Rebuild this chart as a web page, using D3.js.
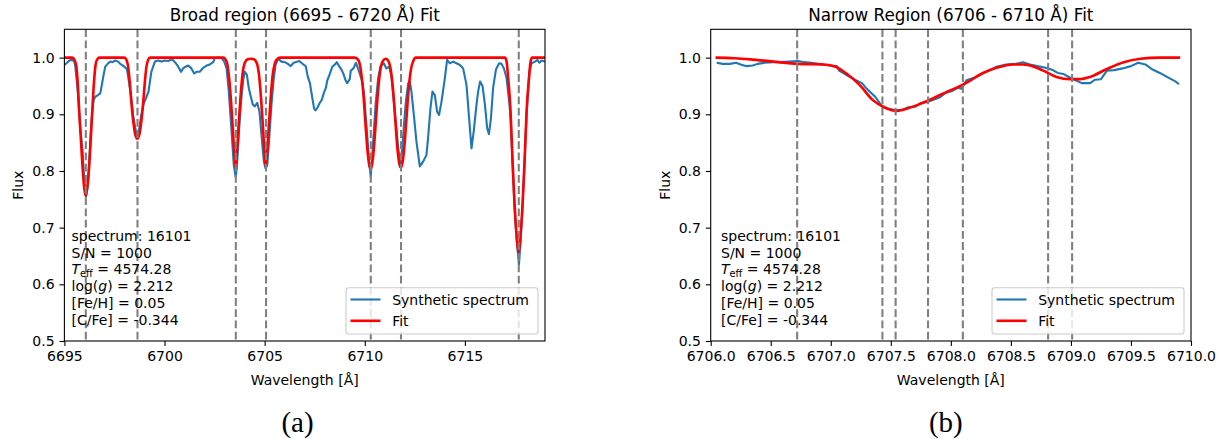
<!DOCTYPE html>
<html>
<head>
<meta charset="utf-8">
<script src="https://cdn.jsdelivr.net/npm/d3@7"></script>
<style>
    body { margin: 0; background: #fff; }
    svg { display: block; font-family: "DejaVu Sans", sans-serif; }
</style>
</head>
<body>
<svg id="chart" width="1223" height="439"></svg>
<script>
// [wavelength, flux]
const broadSpectrum = [
    [6695.00,0.987],[6695.13,0.991],[6695.24,0.995],[6695.38,0.996],[6695.48,0.994],[6695.54,0.986],
    [6695.61,0.962],[6695.68,0.935],[6695.79,0.876],[6695.91,0.835],[6695.98,0.790],[6696.04,0.765],
    [6696.08,0.755],[6696.13,0.765],[6696.18,0.780],[6696.24,0.817],[6696.31,0.864],[6696.38,0.899],
    [6696.46,0.925],[6696.54,0.931],[6696.68,0.934],[6696.79,0.937],[6696.87,0.952],[6696.96,0.970],
    [6697.04,0.984],[6697.18,0.990],[6697.29,0.993],[6697.41,0.992],[6697.54,0.995],[6697.68,0.993],
    [6697.79,0.989],[6697.96,0.985],[6698.12,0.980],[6698.20,0.963],[6698.32,0.934],[6698.43,0.899],
    [6698.54,0.876],[6698.64,0.858],[6698.74,0.876],[6698.84,0.899],[6698.96,0.919],[6699.07,0.928],
    [6699.20,0.940],[6699.34,0.975],[6699.52,0.993],[6699.68,0.995],[6699.85,0.993],[6700.02,0.995],
    [6700.18,0.994],[6700.38,0.997],[6700.52,0.992],[6700.65,0.986],[6700.82,0.975],[6700.93,0.981],
    [6701.05,0.984],[6701.18,0.986],[6701.32,0.982],[6701.48,0.972],[6701.60,0.975],[6701.76,0.975],
    [6701.93,0.982],[6702.10,0.986],[6702.26,0.988],[6702.43,0.992],[6702.51,0.999],[6702.68,1.000],
    [6702.85,0.999],[6702.98,0.993],[6703.10,0.981],[6703.21,0.940],[6703.35,0.869],[6703.46,0.810],
    [6703.55,0.790],[6703.61,0.805],[6703.71,0.864],[6703.81,0.917],[6703.93,0.961],[6704.01,0.975],
    [6704.11,0.970],[6704.21,0.946],[6704.31,0.931],[6704.41,0.917],[6704.51,0.914],[6704.63,0.920],
    [6704.74,0.905],[6704.84,0.864],[6704.96,0.817],[6705.04,0.805],[6705.13,0.810],[6705.23,0.858],
    [6705.34,0.917],[6705.44,0.958],[6705.54,0.987],[6705.68,0.998],[6705.84,0.993],[6706.01,0.992],
    [6706.16,0.989],[6706.30,0.985],[6706.45,0.991],[6706.65,0.993],[6706.73,0.994],[6706.93,0.988],
    [6707.05,0.985],[6707.15,0.967],[6707.26,0.955],[6707.37,0.931],[6707.47,0.910],[6707.54,0.907],
    [6707.64,0.912],[6707.75,0.920],[6707.86,0.926],[6707.95,0.937],[6708.06,0.947],[6708.13,0.960],
    [6708.26,0.972],[6708.38,0.984],[6708.54,0.989],[6708.60,0.992],[6708.72,0.985],[6708.85,0.978],
    [6708.94,0.971],[6709.03,0.961],[6709.12,0.955],[6709.25,0.962],[6709.30,0.977],[6709.43,0.981],
    [6709.56,0.991],[6709.68,0.979],[6709.80,0.966],[6709.87,0.958],[6709.95,0.940],[6710.12,0.864],
    [6710.22,0.815],[6710.30,0.790],[6710.42,0.852],[6710.55,0.922],[6710.67,0.964],[6710.78,0.984],
    [6710.95,0.990],[6711.08,0.981],[6711.22,0.984],[6711.33,0.967],[6711.50,0.905],[6711.67,0.840],
    [6711.80,0.806],[6711.92,0.864],[6712.05,0.922],[6712.17,0.955],[6712.25,0.958],[6712.33,0.940],
    [6712.45,0.899],[6712.58,0.852],[6712.75,0.808],[6712.92,0.817],[6713.08,0.828],[6713.16,0.858],
    [6713.28,0.911],[6713.38,0.940],[6713.50,0.934],[6713.61,0.905],[6713.71,0.899],[6713.83,0.922],
    [6714.00,0.964],[6714.11,0.996],[6714.25,0.990],[6714.41,0.993],[6714.58,0.990],[6714.75,0.987],
    [6714.91,0.981],[6715.08,0.952],[6715.21,0.893],[6715.33,0.840],[6715.44,0.870],[6715.58,0.917],
    [6715.66,0.940],[6715.76,0.958],[6715.88,0.950],[6716.00,0.917],[6716.11,0.876],[6716.20,0.865],
    [6716.30,0.893],[6716.41,0.947],[6716.55,0.979],[6716.71,0.990],[6716.83,0.989],[6716.95,0.981],
    [6717.08,0.964],[6717.21,0.923],[6717.28,0.895],[6717.38,0.812],[6717.48,0.735],[6717.58,0.680],
    [6717.70,0.635],[6717.79,0.680],[6717.88,0.740],[6717.98,0.815],[6718.08,0.900],[6718.22,0.975],
    [6718.33,0.990],[6718.50,0.993],[6718.62,0.996],[6718.72,0.991],[6718.83,0.995],[6719.00,0.993]
]

const broadFit = [
    [6695.00,1.000],[6695.40,1.000],[6695.50,0.996],[6695.58,0.988],[6695.66,0.958],[6695.74,0.905],
    [6695.83,0.852],[6695.91,0.805],[6695.99,0.770],[6696.06,0.757],[6696.14,0.770],[6696.23,0.805],
    [6696.31,0.852],[6696.39,0.905],[6696.48,0.958],[6696.56,0.988],[6696.64,0.997],[6696.75,1.000],
    [6698.00,1.000],[6698.10,0.996],[6698.18,0.985],[6698.26,0.958],[6698.34,0.923],[6698.44,0.887],
    [6698.54,0.864],[6698.64,0.857],[6698.74,0.864],[6698.84,0.887],[6698.94,0.923],[6699.02,0.958],
    [6699.10,0.985],[6699.18,0.996],[6699.28,1.000],[6702.93,1.000],[6703.10,0.993],[6703.21,0.969],
    [6703.31,0.928],[6703.40,0.881],[6703.48,0.834],[6703.55,0.806],[6703.62,0.834],[6703.70,0.881],
    [6703.79,0.928],[6703.89,0.969],[6704.00,0.990],[6704.15,0.997],[6704.31,0.998],[6704.46,0.997],
    [6704.61,0.990],[6704.72,0.969],[6704.82,0.928],[6704.91,0.881],[6704.99,0.834],[6705.06,0.808],
    [6705.13,0.834],[6705.21,0.881],[6705.30,0.928],[6705.40,0.969],[6705.51,0.990],[6705.64,0.998],
    [6705.80,1.000],[6709.50,1.000],[6709.67,0.996],[6709.79,0.981],[6709.92,0.940],[6710.04,0.881],
    [6710.14,0.834],[6710.22,0.811],[6710.29,0.804],[6710.36,0.811],[6710.44,0.834],[6710.54,0.881],
    [6710.66,0.940],[6710.79,0.981],[6710.92,0.995],[6711.05,0.998],[6711.18,0.994],[6711.30,0.978],
    [6711.42,0.940],[6711.53,0.887],[6711.63,0.840],[6711.72,0.814],[6711.80,0.806],[6711.88,0.814],
    [6711.97,0.840],[6712.07,0.887],[6712.18,0.940],[6712.30,0.978],[6712.42,0.994],[6712.55,1.000],
    [6717.00,1.000],[6717.08,0.993],[6717.16,0.964],[6717.28,0.905],[6717.38,0.817],[6717.48,0.741],
    [6717.58,0.688],[6717.68,0.657],[6717.78,0.688],[6717.88,0.741],[6717.98,0.817],[6718.08,0.905],
    [6718.20,0.964],[6718.28,0.993],[6718.36,1.000],[6719.00,1.000]
]

const narrowSpectrum = [
    [6706.05,0.991],[6706.10,0.989],[6706.16,0.989],[6706.21,0.991],[6706.25,0.988],[6706.30,0.985],
    [6706.35,0.986],[6706.39,0.989],[6706.45,0.991],[6706.52,0.992],[6706.58,0.992],[6706.65,0.993],
    [6706.73,0.994],[6706.78,0.992],[6706.84,0.991],[6706.93,0.988],[6707.00,0.986],[6707.05,0.985],
    [6707.07,0.977],[6707.15,0.967],[6707.21,0.960],[6707.26,0.955],[6707.30,0.945],[6707.37,0.931],
    [6707.43,0.913],[6707.47,0.910],[6707.54,0.907],[6707.60,0.908],[6707.64,0.912],[6707.71,0.914],
    [6707.75,0.920],[6707.81,0.922],[6707.86,0.926],[6707.91,0.930],[6707.95,0.937],[6708.01,0.941],
    [6708.06,0.947],[6708.09,0.945],[6708.13,0.960],[6708.20,0.965],[6708.26,0.972],[6708.32,0.977],
    [6708.38,0.984],[6708.46,0.988],[6708.54,0.989],[6708.60,0.992],[6708.66,0.988],[6708.72,0.985],
    [6708.79,0.982],[6708.85,0.978],[6708.89,0.973],[6708.94,0.971],[6708.99,0.965],[6709.03,0.961],
    [6709.09,0.955],[6709.16,0.955],[6709.20,0.961],[6709.25,0.962],[6709.30,0.977],[6709.36,0.978],
    [6709.43,0.981],[6709.50,0.985],[6709.56,0.991],[6709.62,0.988],[6709.68,0.979],[6709.74,0.973],
    [6709.80,0.966],[6709.87,0.958],[6709.90,0.953]
]

const narrowFit = [
    [6706.04,1.000],[6706.20,0.999],[6706.33,0.997],[6706.52,0.993],[6706.73,0.989],[6706.94,0.988],
    [6707.04,0.984],[6707.13,0.972],[6707.24,0.952],[6707.35,0.925],[6707.45,0.912],[6707.55,0.906],
    [6707.65,0.911],[6707.74,0.918],[6707.85,0.928],[6707.97,0.940],[6708.08,0.950],[6708.15,0.958],
    [6708.26,0.972],[6708.38,0.982],[6708.52,0.988],[6708.60,0.988],[6708.66,0.986],[6708.77,0.977],
    [6708.88,0.966],[6708.99,0.962],[6709.08,0.962],[6709.16,0.966],[6709.30,0.980],[6709.44,0.992],
    [6709.58,0.998],[6709.74,1.000],[6709.91,1.000]
]

const broadLines = [6696.07, 6698.65, 6703.56, 6705.07, 6710.30, 6711.81, 6717.69]
const narrowLines = [6706.72, 6707.43, 6707.54, 6707.81, 6708.10, 6708.81, 6709.01]

const broadTicks = [6695, 6700, 6705, 6710, 6715]
const narrowTicks = [6706.0, 6706.5, 6707.0, 6707.5, 6708.0, 6708.5, 6709.0, 6709.5, 6710.0]
const fluxTicks = [0.5, 0.6, 0.7, 0.8, 0.9, 1.0]

const seriesNames = ["Synthetic spectrum", "Fit"]
const seriesColors = ["#1f77b4", "#ff0000"]

const fontSize = 14
const tickLen = 4.9
const plotTop = 29.3
const plotBottom = 341

const panels = [
    {
        id: "broad", title: "Broad region (6695 - 6720 \u00c5) Fit", label: "(a)",
        left: 64.4, right: 545, domain: [6695, 6719],
        spectrum: broadSpectrum, fit: broadFit, lines: broadLines,
        ticks: broadTicks, format: d3.format("d"), textX: 71.5, labelX: 297.5
    },
    {
        id: "narrow", title: "Narrow Region (6706 - 6710 \u00c5) Fit", label: "(b)",
        left: 710.7, right: 1191, domain: [6706, 6710],
        spectrum: narrowSpectrum, fit: narrowFit, lines: narrowLines,
        ticks: narrowTicks, format: d3.format(".1f"), textX: 721, labelX: 945.8
    }
]

function infoText(sel, x, y0) {
    let step = 16.7
    let rows = [
        s => s.text("spectrum: 16101"),
        s => s.text("S/N = 1000"),
        s => {
            s.append("tspan").attr("font-style", "italic").text("T")
            s.append("tspan").attr("font-size", 9.8).attr("dy", 2.6).text("eff")
            s.append("tspan").attr("dy", -2.6).text(" = 4574.28")
        },
        s => {
            s.append("tspan").text("log(")
            s.append("tspan").attr("font-style", "italic").text("g")
            s.append("tspan").text(") = 2.212")
        },
        s => s.text("[Fe/H] = 0.05"),
        s => s.text("[C/Fe] = -0.344"),
    ]
    rows.forEach((fn, i) => {
        let t = sel.append("text")
            .attr("x", x)
            .attr("y", y0 + i * step)
            .attr("font-size", fontSize)
        fn(t)
    })
}

function drawPanel(svg, p) {
    let x = d3.scaleLinear().domain(p.domain).range([p.left, p.right])
    let y = d3.scaleLinear().domain([0.5, 1.05]).range([plotBottom, plotTop])
    let g = svg.append("g").attr("class", p.id)

    g.append("clipPath")
        .attr("id", "clip-" + p.id)
        .append("rect")
            .attr("x", p.left)
            .attr("y", plotTop)
            .attr("width", p.right - p.left)
            .attr("height", plotBottom - plotTop)

    let plot = g.append("g").attr("clip-path", `url(#clip-${p.id})`)

    let line = d3.line().x(d => x(d[0])).y(d => y(d[1]))
    plot.append("path")
        .datum(p.spectrum)
        .attr("fill", "none")
        .attr("stroke", seriesColors[0])
        .attr("stroke-width", 2.1)
        .attr("stroke-linejoin", "round")
        .attr("d", line)
    plot.append("path")
        .datum(p.fit)
        .attr("fill", "none")
        .attr("stroke", seriesColors[1])
        .attr("stroke-width", 2.6)
        .attr("stroke-linejoin", "round")
        .attr("d", line.curve(d3.curveMonotoneX))

    plot.selectAll("line.marker")
        .data(p.lines)
        .join("line")
            .attr("class", "marker")
            .attr("x1", d => x(d))
            .attr("x2", d => x(d))
            .attr("y1", plotTop)
            .attr("y2", plotBottom)
            .attr("stroke", "#808080")
            .attr("stroke-width", 2.1)
            .attr("stroke-dasharray", "7.8,3.4")

    // axes
    let xAxis = g.append("g")
        .attr("transform", `translate(0,${plotBottom})`)
        .call(d3.axisBottom(x).tickValues(p.ticks).tickFormat(p.format)
            .tickSize(tickLen).tickPadding(4.9).tickSizeOuter(0))
    let yAxis = g.append("g")
        .attr("transform", `translate(${p.left},0)`)
        .call(d3.axisLeft(y).tickValues(fluxTicks).tickFormat(d3.format(".1f"))
            .tickSize(tickLen).tickPadding(4.9).tickSizeOuter(0))
    for (let ax of [xAxis, yAxis]) {
        ax.attr("font-size", fontSize).attr("font-family", null)
        ax.select(".domain").remove()
        ax.selectAll(".tick line").attr("stroke-width", 1.1)
    }

    g.append("rect")
        .attr("x", p.left)
        .attr("y", plotTop)
        .attr("width", p.right - p.left)
        .attr("height", plotBottom - plotTop)
        .attr("fill", "none")
        .attr("stroke", "#000")
        .attr("stroke-width", 1.1)

    let cx = (p.left + p.right) / 2
    g.append("text")
        .attr("x", cx)
        .attr("y", 21)
        .attr("text-anchor", "middle")
        .attr("font-size", 16.8)
        .text(p.title)
    g.append("text")
        .attr("x", cx)
        .attr("y", 385)
        .attr("text-anchor", "middle")
        .attr("font-size", fontSize)
        .text("Wavelength [\u00c5]")
    g.append("text")
        .attr("transform", `translate(${p.left - 41.2},${(plotTop + plotBottom) / 2}) rotate(-90)`)
        .attr("text-anchor", "middle")
        .attr("font-size", fontSize)
        .text("Flux")

    infoText(g, p.textX, 241)

    // legend, lower right
    let lw = 192, lh = 46.3
    let lx = p.right - 7 - lw, ly = plotBottom - 7 - lh
    let legend = g.append("g")
    legend.append("rect")
        .attr("x", lx)
        .attr("y", ly)
        .attr("width", lw)
        .attr("height", lh)
        .attr("rx", 2.8)
        .attr("fill", "#fff")
        .attr("fill-opacity", 0.8)
        .attr("stroke", "#cccccc")
        .attr("stroke-width", 1.1)
    seriesNames.forEach((name, i) => {
        let ry = ly + 11.8 + i * 21.3
        legend.append("line")
            .attr("x1", lx + 4.5)
            .attr("x2", lx + 34.5)
            .attr("y1", ry)
            .attr("y2", ry)
            .attr("stroke", seriesColors[i])
            .attr("stroke-width", i == 0 ? 2.1 : 2.6)
        legend.append("text")
            .attr("x", lx + 46.2)
            .attr("y", ry + 5)
            .attr("font-size", fontSize)
            .text(name)
    })

    svg.append("text")
        .attr("x", p.labelX)
        .attr("y", 432)
        .attr("text-anchor", "middle")
        .attr("font-family", "'Liberation Serif', 'DejaVu Serif', serif")
        .attr("font-size", 29)
        .text(p.label)
}

let svg = d3.select("#chart")
svg.append("rect").attr("width", 1223).attr("height", 439).attr("fill", "#fff")
for (let p of panels) {
    drawPanel(svg, p)
}
</script>
</body>
</html>
